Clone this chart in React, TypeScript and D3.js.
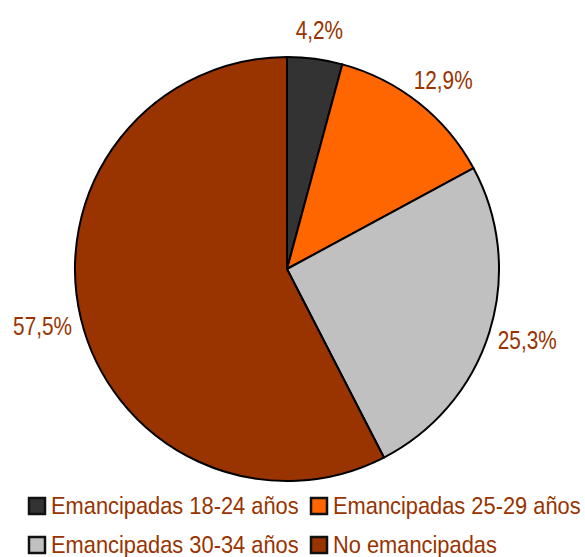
import React from 'react';
import * as d3 from 'd3';

const categories = ['Emancipadas 18-24 años', 'Emancipadas 25-29 años', 'Emancipadas 30-34 años', 'No emancipadas'];
const values = [4.2, 12.9, 25.3, 57.5];
const labels = ['4,2%', '12,9%', '25,3%', '57,5%'];
const colors = ['#333333', '#FF6600', '#C0C0C0', '#993300'];

const W = 585;
const H = 557;
const cx = 287;
const cy = 269;
const R = 212;
const textColor = '#993300';
const font = '"Liberation Sans", Arial, sans-serif';
// the original uses a condensed face; squeeze Liberation Sans horizontally
const labelScale = 0.8;
const legendScale = 0.91;

export default function App() {
  const pie = d3.pie<number>().sort(null).value(d => d);
  const arcs = pie(values);
  const arcGen = d3.arc<d3.PieArcDatum<number>>().innerRadius(0).outerRadius(R);

  // label boxes sit just outside the rim, pushed out by half their size
  const labelPos = arcs.map((a, i) => {
    const ang = (a.startAngle + a.endAngle) / 2;
    const s = Math.sin(ang);
    const c = -Math.cos(ang);
    const w = labels[i].length * 11;
    const h = 34;
    const gap = 12;
    const x = cx + s * (R + gap) + s * w / 2;
    const y = cy + c * (R + gap) + c * h / 2;
    return { x, y };
  });

  const legendRows = [
    [{ i: 0, x: 28 }, { i: 1, x: 310 }],
    [{ i: 2, x: 28 }, { i: 3, x: 310 }],
  ];
  const rowY = [514, 553];

  return (
    <svg width={W} height={H} style={{ position: 'absolute', left: 0, top: 0 }}>
      <rect width={W} height={H} fill="#ffffff" />
      <g transform={`translate(${cx},${cy})`}>
        {arcs.map((a, i) => (
          <path key={i} d={arcGen(a) || ''} fill={colors[i]} stroke="#000" strokeWidth={2} strokeLinejoin="round" />
        ))}
      </g>
      {labelPos.map((p, i) => (
        <text key={i} transform={`translate(${p.x},${p.y}) scale(${labelScale},1)`} dy="0.35em" textAnchor="middle" fontFamily={font} fontSize={26} fill={textColor}>
          {labels[i]}
        </text>
      ))}
      {legendRows.map((row, r) =>
        row.map(item => (
          <g key={item.i}>
            <rect x={item.x + 1} y={rowY[r] - 16} width={16} height={16} fill={colors[item.i]} stroke="#111" strokeWidth={2.5} />
            <text transform={`translate(${item.x + 23},${rowY[r]}) scale(${legendScale},1)`} fontFamily={font} fontSize={24} fill={textColor}>
              {categories[item.i]}
            </text>
          </g>
        ))
      )}
    </svg>
  );
}
